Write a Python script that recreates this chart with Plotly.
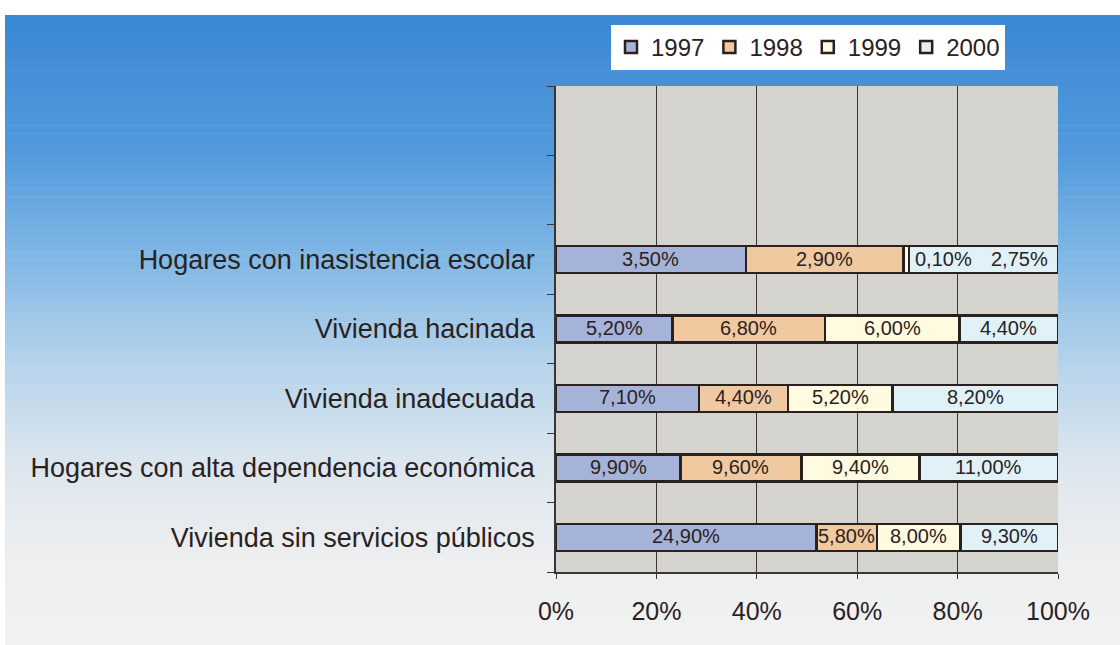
import numpy as np
import plotly.graph_objects as go

# data, top to bottom as shown
categories = [
    "Hogares con inasistencia escolar",
    "Vivienda hacinada",
    "Vivienda inadecuada",
    "Hogares con alta dependencia económica",
    "Vivienda sin servicios públicos",
]
years = ["1997", "1998", "1999", "2000"]
v1997 = [3.50, 5.20, 7.10, 9.90, 24.90]
v1998 = [2.90, 6.80, 4.40, 9.60, 5.80]
v1999 = [0.10, 6.00, 5.20, 9.40, 8.00]
v2000 = [2.75, 4.40, 8.20, 11.00, 9.30]
x_ticks = [0, 20, 40, 60, 80, 100]
x_tick_text = ["0%", "20%", "40%", "60%", "80%", "100%"]

series = [v1997, v1998, v1999, v2000]
colors = ["#a6b3d9", "#f1c9a1", "#fffbe1", "#e0f1f8"]
edge = "#2b2020"
font = "Liberation Sans, Arial, sans-serif"

# page margin is removed by the post script, so figure pixels = screen pixels
W, H = 1120, 645
PLOT_X0, PLOT_X1, PLOT_Y0, PLOT_Y1 = 556, 1058, 86, 572
L, R, T, B = PLOT_X0, W - PLOT_X1, PLOT_Y0, H - PLOT_Y1
PW, PH = W - L - R, H - T - B


def px_x(p):
    return (p - L) / PW


def px_y(p):
    return (H - B - p) / PH


# y positions: bottom row at 0, two empty slots at the top
ypos = list(range(len(categories) - 1, -1, -1))

fig = go.Figure()
for name, vals, col in zip(years, series, colors):
    fig.add_trace(
        go.Bar(
            y=ypos,
            x=vals,
            name=name,
            orientation="h",
            width=0.39,
            marker=dict(color=col, line=dict(color=edge, width=2.5)),
            hoverinfo="x+name",
        )
    )


def fmt(v):
    return f"{v:.2f}".replace(".", ",") + "%"


# value labels at the centre of each normalised segment
arr = np.array(series)
shares = arr / arr.sum(axis=0) * 100
annotations = []
for j, yv in enumerate(ypos):
    left = 0.0
    prev_small = False
    for i in range(len(series)):
        w = shares[i, j]
        if w < 2:
            ann = dict(x=left + w, xanchor="left", xshift=4)
            prev_small = True
        elif prev_small:
            ann = dict(x=left + w, xanchor="right", xshift=-8)
            prev_small = False
        else:
            ann = dict(x=left + w / 2, xanchor="center")
        ann.update(
            y=yv, xref="x", yref="y", text=fmt(series[i][j]), showarrow=False,
            font=dict(family=font, size=20, color="#2a2222"), yshift=1,
        )
        annotations.append(ann)
        left += w

# background gradient (blue at top fading to white) drawn as bands
stops = [(15, (60, 136, 212)), (150, (82, 154, 220)), (260, (130, 185, 230)),
         (360, (180, 211, 235)), (460, (220, 230, 238)), (560, (238, 239, 240)),
         (645, (242, 242, 242))]
shapes = []
n = 80
edges = np.linspace(15, H, n + 1)
sy = [s[0] for s in stops]
for k in range(n):
    mid = (edges[k] + edges[k + 1]) / 2
    c = [int(np.interp(mid, sy, [s[1][ch] for s in stops])) for ch in range(3)]
    shapes.append(dict(type="rect", xref="paper", yref="paper",
                       x0=px_x(5), x1=px_x(W), y0=px_y(edges[k + 1] + 0.5), y1=px_y(edges[k]),
                       fillcolor=f"rgb({c[0]},{c[1]},{c[2]})", line_width=0, layer="below"))
# plot area
shapes.append(dict(type="rect", xref="x domain", yref="y domain", x0=0, x1=1, y0=0, y1=1,
                   fillcolor="#d5d3ce", line_width=0, layer="below"))

fig.update_layout(
    width=W,
    height=H,
    margin=dict(l=L, r=R, t=T, b=B, pad=0),
    barmode="stack",
    barnorm="percent",
    paper_bgcolor="white",
    plot_bgcolor="rgba(0,0,0,0)",
    font=dict(family=font, color="#2a2222"),
    shapes=shapes,
    annotations=annotations,
    legend=dict(
        orientation="h",
        x=px_x(611), y=px_y(25), xanchor="left", yanchor="top",
        bgcolor="white", borderwidth=0,
        font=dict(family=font, size=24, color="#2a2222"),
        itemwidth=30, tracegroupgap=0,
        traceorder="normal",
    ),
    xaxis=dict(
        range=[0, 100], tickvals=x_ticks, ticktext=x_tick_text,
        showgrid=True, gridcolor="#3a3535", gridwidth=1,
        showline=True, linecolor="#3a3535", linewidth=1.5,
        ticks="outside", ticklen=5, tickcolor="#3a3535",
        tickfont=dict(family=font, size=25, color="#2a2222"),
        ticklabelstandoff=11, zeroline=False, fixedrange=True,
    ),
    yaxis=dict(
        range=[-0.5, 6.5], tickvals=ypos, ticktext=categories,
        showgrid=False, zeroline=False,
        showline=True, linecolor="#3a3535", linewidth=1.5,
        ticks="",
        minor=dict(tickvals=[k - 0.5 for k in range(8)], ticks="outside",
                   ticklen=7, tickcolor="#3a3535", showgrid=False),
        tickfont=dict(family=font, size=27, color="#2a2222"),
        ticklabelstandoff=14, fixedrange=True,
    ),
)

fig.write_html(
    "out.html",
    config={"displayModeBar": False},
    post_script="document.body.style.margin='0';document.body.style.overflow='hidden';",
)
